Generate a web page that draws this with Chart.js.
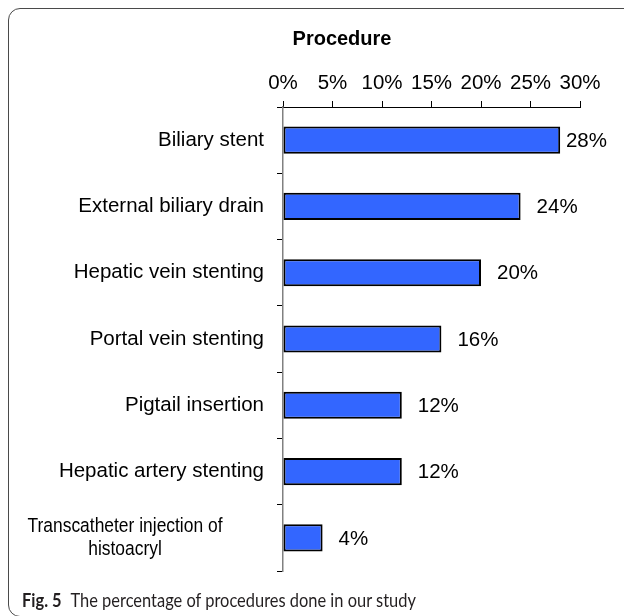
<!DOCTYPE html>
<html>
<head>
<meta charset="utf-8">
<script src="https://cdn.jsdelivr.net/npm/chart.js@4.4.1/dist/chart.umd.min.js"></script>
<style>
  html, body { margin: 0; padding: 0; background: #fff; }
  body { width: 624px; height: 616px; position: relative; overflow: hidden; }
  #frame {
    position: absolute; left: 8px; top: 8px; width: 700px; height: 609px;
    border: 1.5px solid #4a4a4a; border-radius: 12px; box-sizing: border-box;
  }
  #wrap { position: absolute; left: 0; top: 0; width: 624px; height: 616px; }
  #caption {
    position: absolute; left: 22px; top: 590px; line-height: 19px;
    font-family: Lato, "Open Sans", sans-serif; font-size: 19px; color: #231f20; white-space: nowrap;
    transform: scaleX(0.865); transform-origin: left top;
  }
  #caption b { font-weight: 700; margin-right: 6px; }
</style>
</head>
<body>
<div id="frame"></div>
<div id="wrap"><canvas id="procChart" width="624" height="616"></canvas></div>
<div id="caption"><b>Fig. 5</b> The percentage of procedures done in our study</div>

<script>
// --- data ---
const chartTitle = 'Procedure';
const categories = [
  'Biliary stent',
  'External biliary drain',
  'Hepatic vein stenting',
  'Portal vein stenting',
  'Pigtail insertion',
  'Hepatic artery stenting',
  ['Transcatheter injection of', 'histoacryl']
];
const percentages = [28, 24, 20, 16, 12, 12, 4];
const xTicks = [0, 5, 10, 15, 20, 25, 30];

const FONT = '"Liberation Sans", Arial, sans-serif';

// title drawn over the top axis area
const titlePlugin = {
  id: 'procTitle',
  afterDraw(chart) {
    const ctx = chart.ctx;
    ctx.save();
    ctx.font = 'bold 20px ' + FONT;
    ctx.fillStyle = '#000';
    ctx.textAlign = 'center';
    ctx.textBaseline = 'alphabetic';
    ctx.fillText(chartTitle, 342, 45);
    ctx.restore();
  }
};

// category labels (wrapped one is squeezed and centred like the original)
const catLabels = {
  id: 'catLabels',
  afterDraw(chart) {
    const ctx = chart.ctx;
    const y = chart.scales.y;
    ctx.save();
    ctx.fillStyle = '#000';
    ctx.textBaseline = 'middle';
    ctx.font = '20.5px ' + FONT;
    categories.forEach((lab, i) => {
      const cy = y.getPixelForValue(i);
      if (Array.isArray(lab)) {
        ctx.save();
        ctx.translate(125, 0);
        ctx.scale(0.85, 1);
        ctx.textAlign = 'center';
        const lh = 23;
        const start = cy - (lab.length - 1) * lh / 2;
        lab.forEach((line, k) => ctx.fillText(line, 0, start + k * lh));
        ctx.restore();
      } else {
        ctx.textAlign = 'right';
        ctx.fillText(lab, y.right - 19, cy);
      }
    });
    ctx.restore();
  }
};

// value labels to the right of bars
const valueLabels = {
  id: 'valueLabels',
  afterDatasetsDraw(chart) {
    const ctx = chart.ctx;
    const meta = chart.getDatasetMeta(0);
    ctx.save();
    ctx.font = '20.5px ' + FONT;
    ctx.fillStyle = '#000';
    ctx.textAlign = 'left';
    ctx.textBaseline = 'middle';
    meta.data.forEach((bar, i) => {
      const txt = percentages[i] + '%';
      const w = ctx.measureText(txt).width;
      let x = bar.x + 16;
      if (x + w > 607) x = 607 - w;
      ctx.fillText(txt, x, bar.y + 1);
    });
    ctx.restore();
  }
};

new Chart(document.getElementById('procChart'), {
  type: 'bar',
  data: {
    labels: categories,
    datasets: [{
      data: percentages,
      backgroundColor: '#3366ff',
      borderColor: '#000',
      borderWidth: 2,
      borderSkipped: false,
      barPercentage: 0.41,
      categoryPercentage: 1
    }]
  },
  options: {
    indexAxis: 'y',
    responsive: false,
    animation: false,
    layout: { padding: { top: 0, right: 44, bottom: 45, left: 0 } },
    plugins: { legend: { display: false }, tooltip: { enabled: false } },
    scales: {
      x: {
        position: 'top',
        min: 0,
        max: 30,
        afterBuildTicks: s => { s.ticks = xTicks.map(v => ({ value: v })); },
        afterFit: s => { s.height = 107; },
        ticks: {
          callback: v => v + '%',
          color: '#000',
          padding: 5,
          maxRotation: 0,
          font: { family: FONT, size: 20.5 }
        },
        grid: { drawOnChartArea: false, tickLength: 6, color: '#000' },
        border: { color: '#000', width: 1 }
      },
      y: {
        afterFit: s => { s.width = 283; },
        ticks: { display: false },
        grid: { drawOnChartArea: false, tickLength: 6, color: '#000', offset: true },
        border: { color: '#808080', width: 1.5 }
      }
    }
  },
  plugins: [titlePlugin, catLabels, valueLabels]
});
</script>
</body>
</html>
